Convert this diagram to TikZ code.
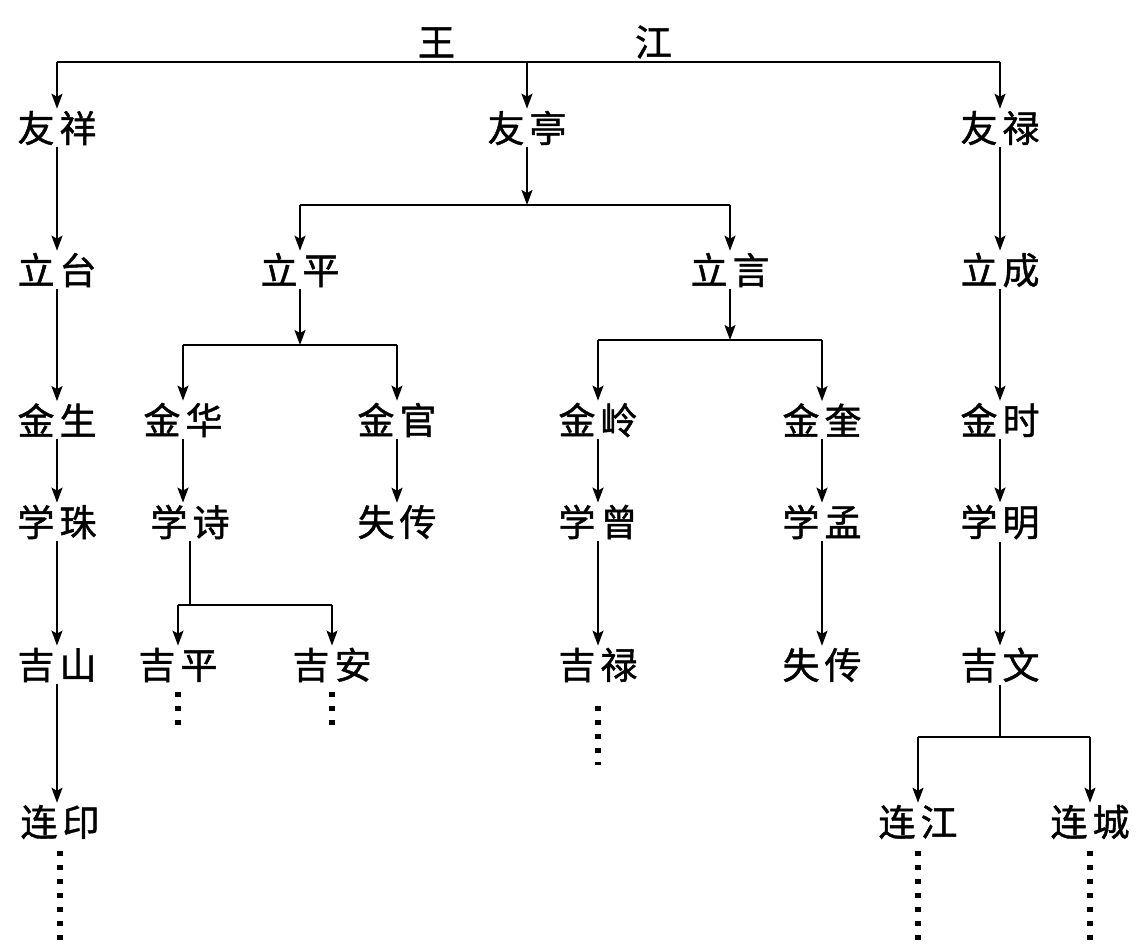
\documentclass[tikz,border=0pt]{standalone}
\usepackage{fontspec}
\newfontfamily\cjk[FakeBold=1.2]{Noto Sans CJK SC}
\usetikzlibrary{arrows.meta}
\newcommand{\kg}{\hspace{5pt}}
\tikzset{
  person/.style={font=\cjk\fontsize{37}{37}\selectfont, inner sep=2pt, text=black},
  link/.style={line width=2pt, black},
  arr/.style={link, -{Stealth[length=15pt,width=11pt,inset=3pt]}},
  cont/.style={line width=5.5pt, dash pattern=on 5pt off 9pt, black}
}
\begin{document}
\begin{tikzpicture}[x=1pt, y=-1pt]
\fill[white] (0,0) rectangle (1142,951);
\useasboundingbox (0,0) rectangle (1142,951);

% generation 0
\node[person] (wj) at (545,42) {王\hspace{180pt}江};

% generation 1
\node[person] (youxiang) at (57,128) {友\kg 祥};
\node[person] (youting)  at (527,128) {友\kg 亭};
\node[person] (youlu)    at (1000,128) {友\kg 禄};

% generation 2
\node[person] (litai)   at (57,270) {立\kg 台};
\node[person] (liping)  at (300,270) {立\kg 平};
\node[person] (liyan)   at (730,270) {立\kg 言};
\node[person] (licheng) at (1000,270) {立\kg 成};

% generation 3
\node[person] (jinsheng) at (57,420) {金\kg 生};
\node[person] (jinhua)   at (183,420) {金\kg 华};
\node[person] (jinguan)  at (397,420) {金\kg 官};
\node[person] (jinling)  at (598,420) {金\kg 岭};
\node[person] (jinkui)   at (822,420) {金\kg 奎};
\node[person] (jinshi)   at (1000,420) {金\kg 时};

% generation 4
\node[person] (xuezhu)   at (57,522) {学\kg 珠};
\node[person] (xueshi)   at (190,522) {学\kg 诗};
\node[person] (lostA)    at (397,522) {失\kg 传};
\node[person] (xueceng)  at (598,522) {学\kg 曾};
\node[person] (xuemeng)  at (822,522) {学\kg 孟};
\node[person] (xueming)  at (1000,522) {学\kg 明};

% generation 5
\node[person] (jishan) at (57,665) {吉\kg 山};
\node[person] (jiping) at (178,665) {吉\kg 平};
\node[person] (jian)   at (332,665) {吉\kg 安};
\node[person] (jilu)   at (598,665) {吉\kg 禄};
\node[person] (lostB)  at (822,665) {失\kg 传};
\node[person] (jiwen)  at (1000,665) {吉\kg 文};

% generation 6
\node[person] (lianyin)   at (60,822) {连\kg 印};
\node[person] (lianjiang) at (918,822) {连\kg 江};
\node[person] (liancheng) at (1090,822) {连\kg 城};

% junction bars
\coordinate (bar0) at (0,62);
\coordinate (bar1) at (0,205);
\coordinate (bar2) at (0,345);
\coordinate (bar3) at (0,340);
\coordinate (bar4) at (0,605);
\coordinate (bar5) at (0,737);

% Wang Jiang's sons
\draw[link] (youxiang |- bar0) -- (youlu |- bar0);
\draw[arr] (youxiang |- bar0) -- (youxiang.north);
\draw[arr] (youting |- bar0) -- (youting.north);
\draw[arr] (youlu |- bar0) -- (youlu.north);

% Youting's sons
\draw[arr] (youting.south) -- (youting |- bar1);
\draw[link] (liping |- bar1) -- (liyan |- bar1);
\draw[arr] (liping |- bar1) -- (liping.north);
\draw[arr] (liyan |- bar1) -- (liyan.north);

% Liping's sons
\draw[arr] (liping.south) -- (liping |- bar2);
\draw[link] (jinhua |- bar2) -- (jinguan |- bar2);
\draw[arr] (jinhua |- bar2) -- (jinhua.north);
\draw[arr] (jinguan |- bar2) -- (jinguan.north);

% Liyan's sons
\draw[arr] (liyan.south) -- (liyan |- bar3);
\draw[link] (jinling |- bar3) -- (jinkui |- bar3);
\draw[arr] (jinling |- bar3) -- (jinling.north);
\draw[arr] (jinkui |- bar3) -- (jinkui.north);

% Xueshi's sons
\draw[link] (xueshi.south) -- (xueshi |- bar4);
\draw[link] (jiping |- bar4) -- (jian |- bar4);
\draw[arr] (jiping |- bar4) -- (jiping.north);
\draw[arr] (jian |- bar4) -- (jian.north);

% Jiwen's sons
\draw[link] (jiwen.south) -- (jiwen |- bar5);
\draw[link] (lianjiang |- bar5) -- (liancheng |- bar5);
\draw[arr] (lianjiang |- bar5) -- (lianjiang.north);
\draw[arr] (liancheng |- bar5) -- (liancheng.north);

% single lines of descent
\draw[arr] (youxiang) -- (litai);
\draw[arr] (litai) -- (jinsheng);
\draw[arr] (jinsheng) -- (xuezhu);
\draw[arr] (xuezhu) -- (jishan);
\draw[arr] (jishan.south) -- (jishan.south |- lianyin.north);
\draw[arr] (youlu) -- (licheng);
\draw[arr] (licheng) -- (jinshi);
\draw[arr] (jinshi) -- (xueming);
\draw[arr] (xueming) -- (jiwen);
\draw[arr] (jinhua.south) -- (jinhua.south |- xueshi.north);
\draw[arr] (jinguan) -- (lostA);
\draw[arr] (jinling) -- (xueceng);
\draw[arr] (xueceng) -- (jilu);
\draw[arr] (jinkui) -- (xuemeng);
\draw[arr] (xuemeng) -- (lostB);

% lines continued elsewhere
\coordinate (endA) at (0,728);
\coordinate (endB) at (0,765);
\coordinate (endC) at (0,948);
\draw[cont] ([yshift=-8pt]jiping.south) -- (jiping |- endA);
\draw[cont] ([yshift=-8pt]jian.south) -- (jian |- endA);
\draw[cont] ([yshift=-22pt]jilu.south) -- (jilu |- endB);
\draw[cont] ([yshift=-10pt]lianyin.south) -- (lianyin |- endC);
\draw[cont] ([yshift=-10pt]lianjiang.south) -- (lianjiang |- endC);
\draw[cont] ([yshift=-10pt]liancheng.south) -- (liancheng |- endC);
\end{tikzpicture}
\end{document}
